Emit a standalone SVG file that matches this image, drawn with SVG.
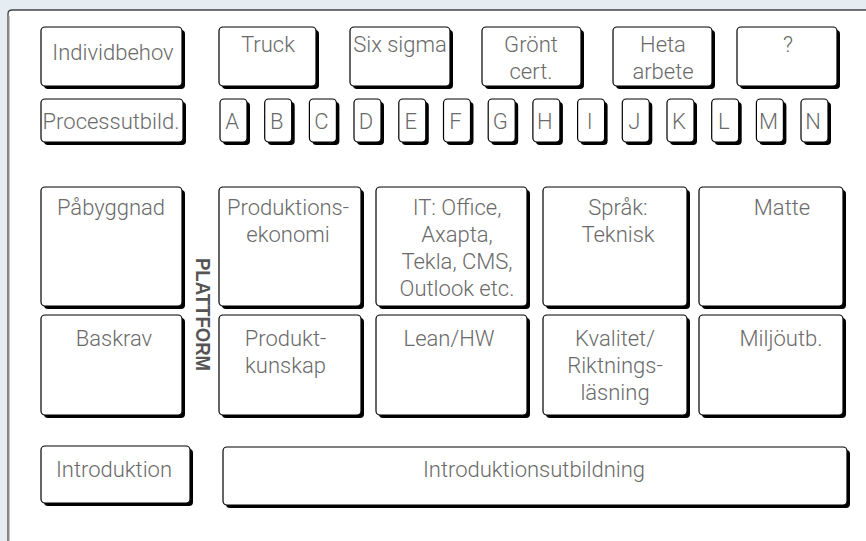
<svg xmlns="http://www.w3.org/2000/svg" width="866" height="541" viewBox="0 0 866 541">
<style>
.bg{fill:#e5ecf2}
.panel{fill:#ffffff}
.sh{fill:#000000}
.bx{fill:#ffffff;stroke:#000000;stroke-width:1.2}
text{font-family:Roboto,"Liberation Sans",Arial,sans-serif;font-weight:300;font-size:22px;fill:#6a6a6a;text-anchor:middle}
.plat{font-family:"Liberation Sans",Arial,sans-serif;font-weight:bold;font-size:20px;fill:#555555}
</style>
<rect class="bg" x="0" y="0" width="866" height="541"/>
<g id="panel">
<rect class="panel" x="8" y="10" width="900" height="600" rx="4"/>
<path d="M8,560 V14 Q8,10 12,10 H866" fill="none" stroke="#444444" stroke-width="1.3"/>
<line x1="8.5" y1="16" x2="8.5" y2="541" stroke="#8a8a8a" stroke-width="2"/>
</g>
<g id="connectors"/>

<g id="individbehov"><rect class="sh" x="44" y="30" width="141" height="59" rx="4"/><rect class="bx" x="41" y="27" width="141" height="59" rx="4"/><text x="113" y="60">Individbehov</text></g>
<g id="truck"><rect class="sh" x="222" y="30" width="97" height="59" rx="4"/><rect class="bx" x="219" y="27" width="97" height="59" rx="4"/><text x="268" y="52">Truck</text></g>
<g id="sixsigma"><rect class="sh" x="353" y="30" width="100" height="59" rx="4"/><rect class="bx" x="350" y="27" width="100" height="59" rx="4"/><text x="400" y="52">Six sigma</text></g>
<g id="gront"><rect class="sh" x="485" y="30" width="99" height="59" rx="4"/><rect class="bx" x="482" y="27" width="99" height="59" rx="4"/><text x="531" y="52">Grönt</text><text x="531" y="79">cert.</text></g>
<g id="heta"><rect class="sh" x="616" y="30" width="99" height="59" rx="4"/><rect class="bx" x="613" y="27" width="99" height="59" rx="4"/><text x="663" y="52">Heta</text><text x="663" y="79">arbete</text></g>
<g id="fraga"><rect class="sh" x="740" y="30" width="100" height="59" rx="4"/><rect class="bx" x="737" y="27" width="100" height="59" rx="4"/><text x="788" y="52">?</text></g>

<g id="processutbild"><rect class="sh" x="44" y="102" width="142" height="43" rx="4"/><rect class="bx" x="41" y="99" width="142" height="43" rx="4"/><text x="111" y="129">Processutbild.</text></g>
<g id="kA"><rect class="sh" x="223" y="102" width="27" height="43" rx="4"/><rect class="bx" x="220" y="99" width="27" height="43" rx="4"/><text x="232" y="129">A</text></g>
<g id="kB"><rect class="sh" x="267.7" y="102" width="27" height="43" rx="4"/><rect class="bx" x="264.7" y="99" width="27" height="43" rx="4"/><text x="276.7" y="129">B</text></g>
<g id="kC"><rect class="sh" x="312.4" y="102" width="27" height="43" rx="4"/><rect class="bx" x="309.4" y="99" width="27" height="43" rx="4"/><text x="321.4" y="129">C</text></g>
<g id="kD"><rect class="sh" x="357" y="102" width="27" height="43" rx="4"/><rect class="bx" x="354" y="99" width="27" height="43" rx="4"/><text x="366" y="129">D</text></g>
<g id="kE"><rect class="sh" x="401.8" y="102" width="27" height="43" rx="4"/><rect class="bx" x="398.8" y="99" width="27" height="43" rx="4"/><text x="410.8" y="129">E</text></g>
<g id="kF"><rect class="sh" x="446.5" y="102" width="27" height="43" rx="4"/><rect class="bx" x="443.5" y="99" width="27" height="43" rx="4"/><text x="455.5" y="129">F</text></g>
<g id="kG"><rect class="sh" x="491.2" y="102" width="27" height="43" rx="4"/><rect class="bx" x="488.2" y="99" width="27" height="43" rx="4"/><text x="500.2" y="129">G</text></g>
<g id="kH"><rect class="sh" x="535.9" y="102" width="27" height="43" rx="4"/><rect class="bx" x="532.9" y="99" width="27" height="43" rx="4"/><text x="544.9" y="129">H</text></g>
<g id="kI"><rect class="sh" x="580.6" y="102" width="27" height="43" rx="4"/><rect class="bx" x="577.6" y="99" width="27" height="43" rx="4"/><text x="589.6" y="129">I</text></g>
<g id="kJ"><rect class="sh" x="625.3" y="102" width="27" height="43" rx="4"/><rect class="bx" x="622.3" y="99" width="27" height="43" rx="4"/><text x="634.3" y="129">J</text></g>
<g id="kK"><rect class="sh" x="670" y="102" width="27" height="43" rx="4"/><rect class="bx" x="667" y="99" width="27" height="43" rx="4"/><text x="679" y="129">K</text></g>
<g id="kL"><rect class="sh" x="714.7" y="102" width="27" height="43" rx="4"/><rect class="bx" x="711.7" y="99" width="27" height="43" rx="4"/><text x="723.7" y="129">L</text></g>
<g id="kM"><rect class="sh" x="759.4" y="102" width="27" height="43" rx="4"/><rect class="bx" x="756.4" y="99" width="27" height="43" rx="4"/><text x="768.4" y="129">M</text></g>
<g id="kN"><rect class="sh" x="804" y="102" width="27" height="43" rx="4"/><rect class="bx" x="801" y="99" width="27" height="43" rx="4"/><text x="813" y="129">N</text></g>

<g id="pabyggnad"><rect class="sh" x="44" y="190" width="141" height="119" rx="4"/><rect class="bx" x="41" y="187" width="141" height="119" rx="4"/><text x="111" y="214.5">Påbyggnad</text></g>
<g id="produktionsekonomi"><rect class="sh" x="222" y="190" width="142" height="119" rx="4"/><rect class="bx" x="219" y="187" width="142" height="119" rx="4"/><text x="288" y="214.5">Produktions-</text><text x="288" y="241.5">ekonomi</text></g>
<g id="it"><rect class="sh" x="379" y="190" width="151" height="119" rx="4"/><rect class="bx" x="376" y="187" width="151" height="119" rx="4"/><text x="457" y="214.5">IT: Office,</text><text x="457" y="241.5">Axapta,</text><text x="457" y="268.5">Tekla, CMS,</text><text x="457" y="295.5">Outlook etc.</text></g>
<g id="sprak"><rect class="sh" x="546" y="190" width="144" height="119" rx="4"/><rect class="bx" x="543" y="187" width="144" height="119" rx="4"/><text x="618" y="214.5">Språk:</text><text x="618" y="241.5">Teknisk</text></g>
<g id="matte"><rect class="sh" x="702" y="190" width="144" height="119" rx="4"/><rect class="bx" x="699" y="187" width="144" height="119" rx="4"/><text x="782" y="214.5">Matte</text></g>

<g id="baskrav"><rect class="sh" x="44" y="318" width="141" height="100" rx="4"/><rect class="bx" x="41" y="315" width="141" height="100" rx="4"/><text x="114" y="346">Baskrav</text></g>
<g id="produktkunskap"><rect class="sh" x="222" y="318" width="142" height="100" rx="4"/><rect class="bx" x="219" y="315" width="142" height="100" rx="4"/><text x="285.5" y="346">Produkt-</text><text x="285.5" y="373">kunskap</text></g>
<g id="lean"><rect class="sh" x="379" y="318" width="151" height="100" rx="4"/><rect class="bx" x="376" y="315" width="151" height="100" rx="4"/><text x="449" y="346">Lean/HW</text></g>
<g id="kvalitet"><rect class="sh" x="546" y="318" width="144" height="100" rx="4"/><rect class="bx" x="543" y="315" width="144" height="100" rx="4"/><text x="615" y="346">Kvalitet/</text><text x="615" y="373">Riktnings-</text><text x="615" y="400">läsning</text></g>
<g id="miljo"><rect class="sh" x="702" y="318" width="144" height="100" rx="4"/><rect class="bx" x="699" y="315" width="144" height="100" rx="4"/><text x="781" y="346">Miljöutb.</text></g>

<g id="plattform"><text class="plat" transform="translate(196,314.5) rotate(90)" textLength="113" lengthAdjust="spacingAndGlyphs">PLATTFORM</text></g>

<g id="introduktion"><rect class="sh" x="44" y="449" width="149" height="57" rx="4"/><rect class="bx" x="41" y="446" width="149" height="57" rx="4"/><text x="114" y="477">Introduktion</text></g>
<g id="introduktionsutbildning"><rect class="sh" x="226" y="450" width="624" height="58" rx="4"/><rect class="bx" x="223" y="447" width="624" height="58" rx="4"/><text x="534" y="477">Introduktionsutbildning</text></g>
</svg>
